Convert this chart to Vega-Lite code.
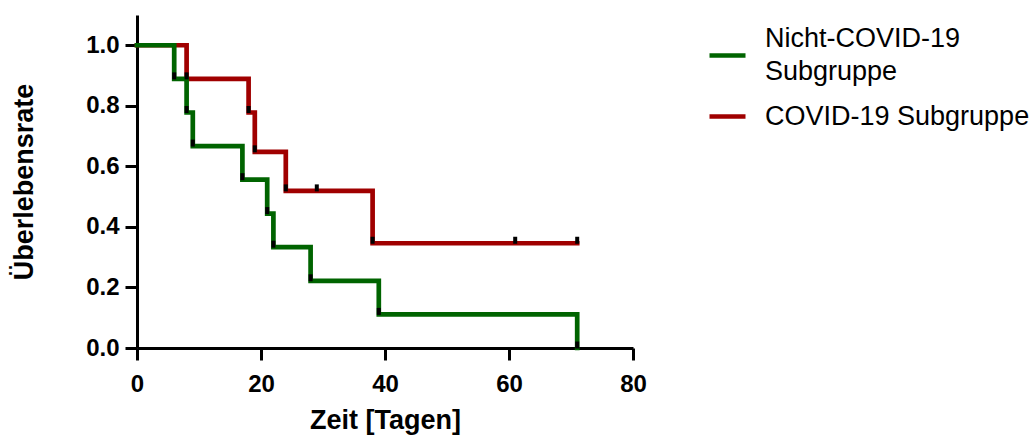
{
  "$schema": "https://vega.github.io/schema/vega-lite/v6.json",
  "width": 496,
  "height": 333,
  "autosize": "none",
  "padding": {"left": 137, "top": 15, "right": 401, "bottom": 89},
  "background": "white",
  "config": {
    "view": {"stroke": null},
    "font": "Liberation Sans",
    "axis": {
      "domainColor": "black",
      "domainWidth": 3,
      "tickColor": "black",
      "tickWidth": 3,
      "tickSize": 12,
      "grid": false,
      "labelFlush": false,
      "labelOverlap": false,
      "labelFont": "Liberation Sans",
      "labelFontWeight": "bold",
      "labelFontSize": 24,
      "labelColor": "black",
      "titleFont": "Liberation Sans",
      "titleFontWeight": "bold",
      "titleFontSize": 27,
      "titleColor": "black"
    }
  },
  "datasets": {
    "curves": [
      {"group": "COVID-19 Subgruppe", "t": 0, "s": 1.0},
      {"group": "COVID-19 Subgruppe", "t": 8, "s": 0.889},
      {"group": "COVID-19 Subgruppe", "t": 18, "s": 0.778},
      {"group": "COVID-19 Subgruppe", "t": 19, "s": 0.648},
      {"group": "COVID-19 Subgruppe", "t": 24, "s": 0.519},
      {"group": "COVID-19 Subgruppe", "t": 38, "s": 0.346},
      {"group": "COVID-19 Subgruppe", "t": 71, "s": 0.346},
      {"group": "Nicht-COVID-19 Subgruppe", "t": 0, "s": 1.0},
      {"group": "Nicht-COVID-19 Subgruppe", "t": 6, "s": 0.889},
      {"group": "Nicht-COVID-19 Subgruppe", "t": 8, "s": 0.778},
      {"group": "Nicht-COVID-19 Subgruppe", "t": 9, "s": 0.667},
      {"group": "Nicht-COVID-19 Subgruppe", "t": 17, "s": 0.556},
      {"group": "Nicht-COVID-19 Subgruppe", "t": 21, "s": 0.444},
      {"group": "Nicht-COVID-19 Subgruppe", "t": 22, "s": 0.333},
      {"group": "Nicht-COVID-19 Subgruppe", "t": 28, "s": 0.222},
      {"group": "Nicht-COVID-19 Subgruppe", "t": 39, "s": 0.111},
      {"group": "Nicht-COVID-19 Subgruppe", "t": 71, "s": 0.0}
    ],
    "marks": [
      {"group": "COVID-19 Subgruppe", "t": 8, "s": 0.889},
      {"group": "COVID-19 Subgruppe", "t": 18, "s": 0.778},
      {"group": "COVID-19 Subgruppe", "t": 19, "s": 0.648},
      {"group": "COVID-19 Subgruppe", "t": 24, "s": 0.519},
      {"group": "COVID-19 Subgruppe", "t": 29, "s": 0.519},
      {"group": "COVID-19 Subgruppe", "t": 38, "s": 0.346},
      {"group": "COVID-19 Subgruppe", "t": 61, "s": 0.346},
      {"group": "COVID-19 Subgruppe", "t": 71, "s": 0.346},
      {"group": "Nicht-COVID-19 Subgruppe", "t": 6, "s": 0.889},
      {"group": "Nicht-COVID-19 Subgruppe", "t": 8, "s": 0.778},
      {"group": "Nicht-COVID-19 Subgruppe", "t": 9, "s": 0.667},
      {"group": "Nicht-COVID-19 Subgruppe", "t": 17, "s": 0.556},
      {"group": "Nicht-COVID-19 Subgruppe", "t": 21, "s": 0.444},
      {"group": "Nicht-COVID-19 Subgruppe", "t": 22, "s": 0.333},
      {"group": "Nicht-COVID-19 Subgruppe", "t": 28, "s": 0.222},
      {"group": "Nicht-COVID-19 Subgruppe", "t": 39, "s": 0.111},
      {"group": "Nicht-COVID-19 Subgruppe", "t": 71, "s": 0.0}
    ]
  },
  "layer": [
    {
      "data": {"name": "curves"},
      "mark": {"type": "line", "interpolate": "step-after", "strokeWidth": 4.7, "strokeCap": "square", "clip": false},
      "encoding": {
        "x": {
          "field": "t", "type": "quantitative",
          "scale": {"domain": [0, 80], "nice": false, "zero": false},
          "axis": {"values": [0, 20, 40, 60, 80], "title": "Zeit [Tagen]", "labelPadding": 12, "titlePadding": 11}
        },
        "y": {
          "field": "s", "type": "quantitative",
          "scale": {"domain": [0, 1.1], "nice": false},
          "axis": {"values": [0, 0.2, 0.4, 0.6, 0.8, 1.0], "format": ".1f", "title": "Überlebensrate", "labelPadding": 6, "titlePadding": 47}
        },
        "color": {
          "field": "group", "type": "nominal",
          "scale": {"domain": ["Nicht-COVID-19 Subgruppe", "COVID-19 Subgruppe"], "range": ["#006400", "#A00000"]},
          "legend": {
            "title": null,
            "orient": "right",
            "offset": 54,
            "padding": 20,
            "symbolType": "stroke",
            "symbolSize": 1296,
            "symbolStrokeWidth": 4.7,
            "labelFont": "Liberation Sans",
            "labelFontSize": 27,
            "labelColor": "black",
            "labelOffset": 17,
            "labelLimit": 400,
            "rowPadding": 11,
            "labelExpr": "datum.label == 'Nicht-COVID-19 Subgruppe' ? ['Nicht-COVID-19', 'Subgruppe'] : datum.label",
            "encode": {"labels": {"update": {"lineHeight": {"value": 33}, "dy": {"signal": "datum.value == 'Nicht-COVID-19 Subgruppe' ? -16.5 : 0"}}}}
          }
        },
        "order": {"field": "t", "type": "quantitative"}
      }
    },
    {
      "data": {"name": "marks"},
      "mark": {"type": "tick", "orient": "vertical", "color": "black", "thickness": 4, "size": 7, "yOffset": -3, "opacity": 1, "clip": false},
      "encoding": {
        "x": {"field": "t", "type": "quantitative"},
        "y": {"field": "s", "type": "quantitative"}
      }
    }
  ]
}
